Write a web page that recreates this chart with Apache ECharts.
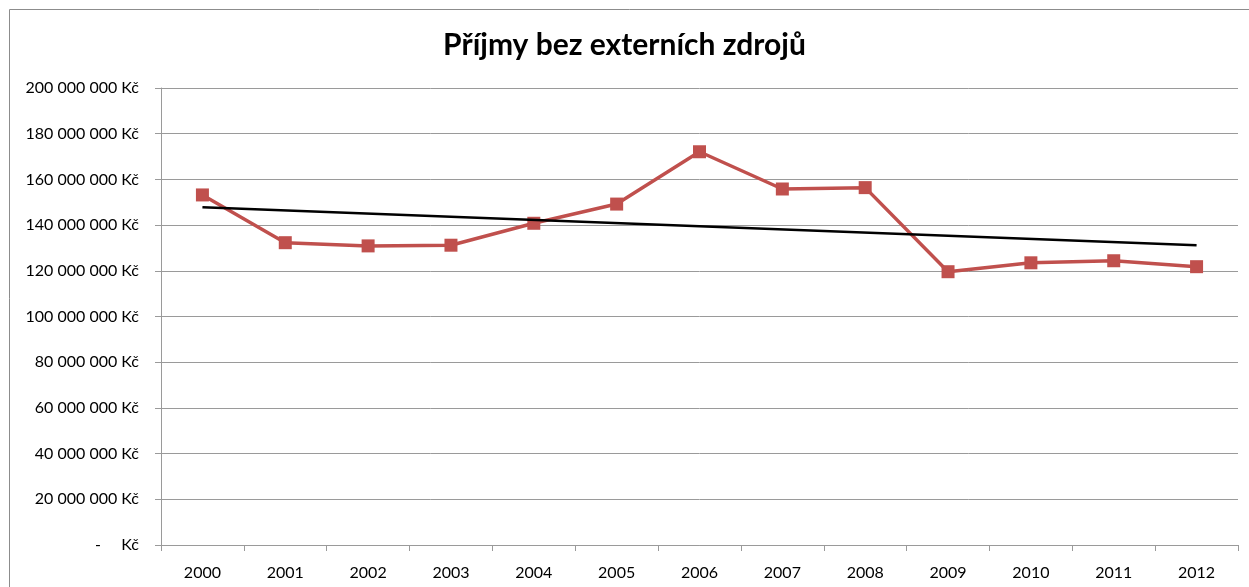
<!DOCTYPE html>
<html>
<head>
<meta charset="utf-8">
<script src="https://cdn.jsdelivr.net/npm/echarts@6/dist/echarts.min.js"></script>
<style>
  html, body { margin: 0; padding: 0; background: #fff; }
  #chart { width: 1249px; height: 587px; }
</style>
</head>
<body>
<div id="chart"></div>
<script>
const years = ['2000', '2001', '2002', '2003', '2004', '2005', '2006', '2007', '2008', '2009', '2010', '2011', '2012']
// příjmy v Kč
const incomes = [153200000, 132300000, 130900000, 131200000, 140800000, 149200000, 172100000,
  155800000, 156400000, 119600000, 123500000, 124400000, 121800000]
// lineární trend (krajní body)
const trend = [147800000, null, null, null, null, null, null, null, null, null, null, null, 131200000]
const yTicks = { min: 0, max: 200000000, step: 20000000 }

const fmtKc = function (v) {
  if (v === 0) return '-     Kč'
  return String(v).replace(/\B(?=(\d{3})+(?!\d))/g, ' ') + ' Kč'
}

const chart = echarts.init(document.getElementById('chart'))
const gray = '#9a9a9a'

chart.setOption({
  animation: false,
  textStyle: { fontFamily: 'Lato' },
  title: {
    text: 'Příjmy bez externích zdrojů',
    left: 'center',
    top: 25,
    textStyle: { fontFamily: 'Lato', fontWeight: 'bold', fontSize: 30, color: '#000' },
  },
  graphic: [
    {
      type: 'rect',
      shape: { x: 9.5, y: 9.5, width: 1260, height: 600 },
      style: { fill: 'none', stroke: '#8c8c8c', lineWidth: 1 },
      silent: true,
    },
  ],
  grid: { left: 161, right: 11, top: 88, bottom: 42 },
  xAxis: {
    type: 'category',
    data: years,
    boundaryGap: true,
    axisLine: { lineStyle: { color: gray, width: 1 } },
    axisTick: { show: true, length: 6, lineStyle: { color: gray } },
    axisLabel: { color: '#000', fontSize: 16, fontFamily: 'Lato', margin: 20 },
  },
  yAxis: {
    type: 'value',
    min: yTicks.min,
    max: yTicks.max,
    interval: yTicks.step,
    axisLine: { show: true, lineStyle: { color: gray, width: 1 } },
    axisTick: { show: true, length: 6, lineStyle: { color: gray } },
    splitLine: { lineStyle: { color: gray, width: 1 } },
    axisLabel: { color: '#000', fontSize: 16, fontFamily: 'Lato', margin: 22, formatter: fmtKc },
  },
  series: [
    {
      name: 'Příjmy',
      type: 'line',
      data: incomes,
      symbol: 'rect',
      symbolSize: 13,
      lineStyle: { color: '#c0504d', width: 3.5 },
      itemStyle: { color: '#c0504d' },
      z: 3,
    },
    {
      name: 'Trend',
      type: 'line',
      data: trend,
      connectNulls: true,
      showSymbol: false,
      symbol: 'none',
      lineStyle: { color: '#000', width: 2.5 },
      z: 4,
    },
  ],
})
</script>
</body>
</html>
